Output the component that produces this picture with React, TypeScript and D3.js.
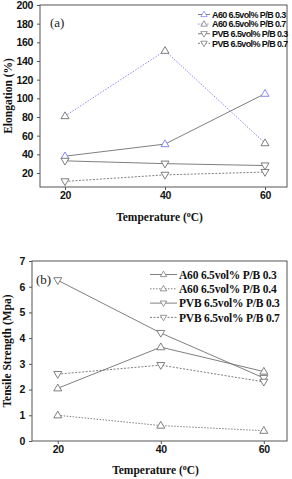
import React, {useRef, useEffect} from 'react';
import * as d3 from 'd3';

// temperatures (x) shared by both panels
const temps = [20, 40, 60];

// panel (a) elongation (%)
const elongA60_03 = [38, 51, 105];
const elongA60_07 = [81, 151, 52];
const elongPVB_03 = [33, 30, 28];
const elongPVB_07 = [11, 18, 21];
const elongLabels = ['A60 6.5vol% P/B 0.3', 'A60 6.5vol% P/B 0.7', 'PVB 6.5vol% P/B 0.3', 'PVB 6.5vol% P/B 0.7'];
const elongTicks = [20, 40, 60, 80, 100, 120, 140, 160, 180, 200];

// panel (b) tensile strength (Mpa)
const tsA60_03 = [2.05, 3.65, 2.7];
const tsA60_04 = [1.0, 0.6, 0.4];
const tsPVB_03 = [6.25, 4.2, 2.45];
const tsPVB_07 = [2.6, 2.95, 2.3];
const tsLabels = ['A60 6.5vol% P/B 0.3', 'A60 6.5vol% P/B 0.4', 'PVB 6.5vol% P/B 0.3', 'PVB 6.5vol% P/B 0.7'];
const tsTicks = [0, 1, 2, 3, 4, 5, 6, 7];

const GREY = '#707070';
const BLUE = '#7b7bf0';

// triangle path centred on 0,0
const tri = (up: boolean) => up ? 'M0,-4.2L4,2.6L-4,2.6Z' : 'M0,4.2L4,-2.6L-4,-2.6Z';

const drawPanel = (svg: any, cfg: any) => {
    const {left, right, top, bottom, xDomain, yDomain, yTicks, series, labels, tickFont,
        legendFont, legendSize, legend, tag, tagPos, yTitle, yTitleX, xTitleY} = cfg;

    const x = d3.scaleLinear().domain(xDomain).range([left, right]);
    const y = d3.scaleLinear().domain(yDomain).range([bottom, top]);

    const g = svg.append('g');

    // frame
    g.append('rect')
        .attr('x', left).attr('y', top)
        .attr('width', right - left).attr('height', bottom - top)
        .attr('fill', 'none').attr('stroke', '#555').attr('stroke-width', 1);

    const yAxis = g.append('g')
        .attr('transform', 'translate(' + left + ',0)')
        .call(d3.axisLeft(y).tickValues(yTicks).tickFormat(d3.format('d')).tickSize(3).tickSizeOuter(0).tickPadding(4));
    const xAxis = g.append('g')
        .attr('transform', 'translate(0,' + bottom + ')')
        .call(d3.axisBottom(x).tickValues(temps).tickFormat(d3.format('d')).tickSize(3).tickSizeOuter(0).tickPadding(2));

    [xAxis, yAxis].forEach(a => {
        a.select('.domain').remove();
        a.selectAll('line').attr('stroke', '#555');
        a.selectAll('text')
            .attr('font-family', tickFont)
            .attr('font-weight', 'bold')
            .attr('font-size', 10.5)
            .attr('letter-spacing', -0.3)
            .attr('fill', '#111');
    });

    // series
    series.forEach((s: any) => {
        const line = d3.line<number>().x((d, i) => x(temps[i])).y(d => y(d));
        g.append('path')
            .datum(s.values)
            .attr('d', line)
            .attr('fill', 'none')
            .attr('stroke', s.lineColor)
            .attr('stroke-width', 0.9)
            .attr('stroke-dasharray', s.dash);
        g.selectAll(null)
            .data(s.values)
            .enter()
            .append('path')
            .attr('d', tri(s.up))
            .attr('transform', (d: number, i: number) => 'translate(' + x(temps[i]) + ',' + y(d) + ')')
            .attr('fill', 'white')
            .attr('stroke', s.markColor)
            .attr('stroke-width', 0.9);
    });

    // legend
    series.forEach((s: any, i: number) => {
        const ly = legend.y + i * legend.step;
        g.append('line')
            .attr('x1', legend.x1).attr('x2', legend.x2)
            .attr('y1', ly).attr('y2', ly)
            .attr('stroke', s.lineColor)
            .attr('stroke-width', 0.9)
            .attr('stroke-dasharray', s.dash);
        g.append('path')
            .attr('d', tri(s.up))
            .attr('transform', 'translate(' + (legend.x1 + legend.x2) / 2 + ',' + ly + ') scale(0.8)')
            .attr('fill', 'white')
            .attr('stroke', s.markColor)
            .attr('stroke-width', 0.9);
        g.append('text')
            .attr('x', legend.x2 + 2)
            .attr('y', ly + legendSize * 0.36)
            .attr('font-family', legendFont)
            .attr('font-weight', 'bold')
            .attr('font-size', legendSize)
            .attr('letter-spacing', legend.spacing)
            .attr('fill', '#111')
            .text(labels[i]);
    });

    // panel tag
    g.append('text')
        .attr('x', tagPos[0]).attr('y', tagPos[1])
        .attr('font-family', 'Liberation Serif, serif')
        .attr('font-size', 13)
        .attr('fill', '#222')
        .text(tag);

    // axis titles
    const xt = g.append('text')
        .attr('x', (left + right) / 2 - 4)
        .attr('y', xTitleY)
        .attr('text-anchor', 'middle')
        .attr('font-family', 'Liberation Serif, serif')
        .attr('font-weight', 'bold')
        .attr('font-size', 11.5)
        .attr('fill', '#111');
    xt.append('tspan').text('Temperature (');
    xt.append('tspan').attr('font-size', 8).attr('dy', -4).text('o');
    xt.append('tspan').attr('dy', 4).text('C)');

    g.append('text')
        .attr('transform', 'translate(' + yTitleX + ',' + (top + bottom) / 2 + ') rotate(-90)')
        .attr('text-anchor', 'middle')
        .attr('font-family', 'Liberation Serif, serif')
        .attr('font-weight', 'bold')
        .attr('font-size', 11.5)
        .attr('fill', '#111')
        .text(yTitle);
};

const App = () => {
    const svgRef = useRef<SVGSVGElement>(null);

    useEffect(() => {
        const svg = d3.select(svgRef.current);
        svg.selectAll('*').remove();

        drawPanel(svg, {
            left: 40, right: 287, top: 5, bottom: 187,
            xDomain: [15, 64.4], yDomain: [5, 200], yTicks: elongTicks,
            series: [
                {values: elongA60_03, up: true, lineColor: GREY, markColor: BLUE, dash: null},
                {values: elongA60_07, up: true, lineColor: BLUE, markColor: GREY, dash: '1.5,1.5'},
                {values: elongPVB_03, up: false, lineColor: GREY, markColor: GREY, dash: null},
                {values: elongPVB_07, up: false, lineColor: GREY, markColor: GREY, dash: '2,1.5'}
            ],
            labels: elongLabels,
            tickFont: 'Liberation Sans, Arial, sans-serif',
            legendFont: 'Liberation Sans, Arial, sans-serif',
            legendSize: 9,
            legend: {x1: 198, x2: 210, y: 14.5, step: 9.6, spacing: -0.6},
            tag: '(a)', tagPos: [50, 27],
            yTitle: 'Elongation (%)', yTitleX: 12, xTitleY: 221
        });

        drawPanel(svg, {
            left: 32, right: 287, top: 261, bottom: 441,
            xDomain: [15, 64.5], yDomain: [0, 7], yTicks: tsTicks,
            series: [
                {values: tsA60_03, up: true, lineColor: GREY, markColor: GREY, dash: null},
                {values: tsA60_04, up: true, lineColor: GREY, markColor: GREY, dash: '1.5,1.5'},
                {values: tsPVB_03, up: false, lineColor: GREY, markColor: GREY, dash: null},
                {values: tsPVB_07, up: false, lineColor: GREY, markColor: GREY, dash: '2,1.5'}
            ],
            labels: tsLabels,
            tickFont: 'Liberation Sans, Arial, sans-serif',
            legendFont: 'Liberation Serif, serif',
            legendSize: 11.5,
            legend: {x1: 150, x2: 177, y: 274.5, step: 14.3, spacing: -0.2},
            tag: '(b)', tagPos: [36, 284],
            yTitle: 'Tensile Strength (Mpa)', yTitleX: 11, xTitleY: 474
        });
    }, []);

    return (
        <svg ref={svgRef} width={292} height={479}
             style={{position: 'absolute', left: 0, top: 0, background: 'white'}}/>
    );
};

export default App;
